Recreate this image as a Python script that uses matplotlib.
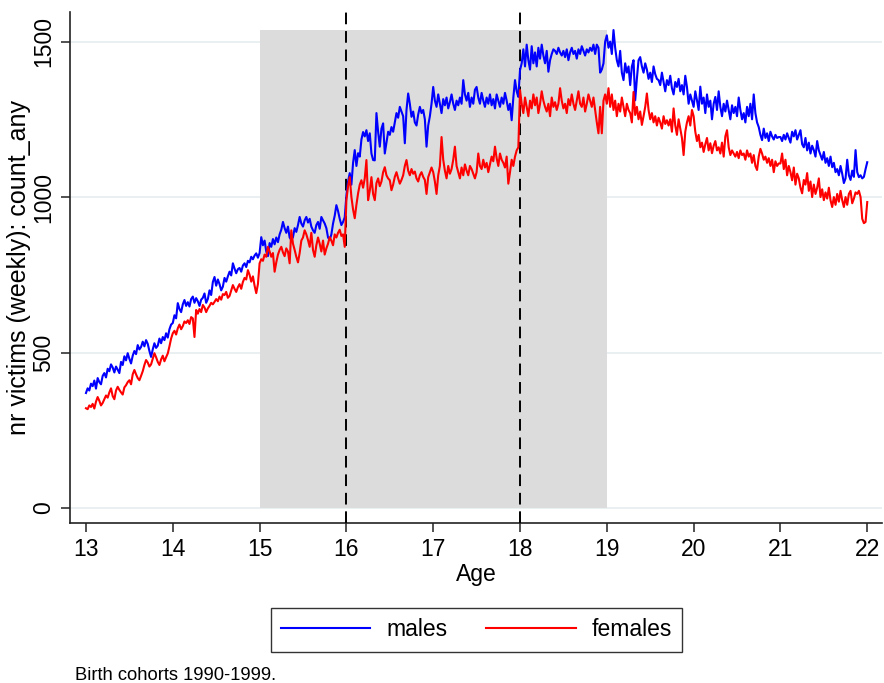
import numpy as np
import matplotlib
matplotlib.use("Agg")
import matplotlib.pyplot as plt
from matplotlib.lines import Line2D

plt.rcParams['font.family'] = ['Liberation Sans', 'DejaVu Sans']

# weekly values, one list per year of age (52 weeks each)
males_13 = [370, 385, 378, 400, 392, 410, 384, 418, 405, 398,
            425, 434, 420, 448, 440, 462, 452, 436, 455, 445,
            434, 470, 460, 488, 475, 498, 480, 465, 490, 505,
            495, 524, 510, 518, 535, 520, 540, 528, 505, 486,
            510, 530, 515, 522, 545, 530, 550, 540, 562, 548,
            575, 590]
males_14 = [595, 620, 610, 659, 640, 630, 655, 669, 650, 662,
            648, 672, 680, 660, 675, 665, 650, 670, 676, 690,
            660, 672, 700, 685, 727, 743, 715, 735, 720, 700,
            712, 740, 728, 745, 760, 748, 787, 770, 755, 768,
            772, 760, 780, 787, 775, 795, 790, 808, 800, 812,
            819, 805]
males_15 = [820, 871, 845, 860, 825, 810, 852, 840, 865, 848,
            870, 855, 880, 895, 920, 900, 885, 905, 870, 862,
            871, 900, 888, 910, 936, 915, 905, 925, 936, 918,
            930, 905, 893, 885, 910, 920, 898, 936, 925, 915,
            900, 870, 862, 880, 915, 940, 974, 955, 930, 910,
            920, 935]
males_16 = [1005, 1050, 1077, 1040, 1110, 1151, 1100, 1141, 1130, 1185,
            1209, 1195, 1215, 1180, 1205, 1140, 1119, 1118, 1270, 1210,
            1162, 1220, 1237, 1140, 1175, 1210, 1200, 1225, 1210, 1240,
            1270, 1255, 1290, 1275, 1260, 1173, 1280, 1333, 1300, 1258,
            1275, 1240, 1230, 1265, 1290, 1270, 1280, 1250, 1162, 1230,
            1260, 1300]
males_17 = [1354, 1310, 1290, 1330, 1300, 1270, 1315, 1295, 1320, 1285,
            1305, 1330, 1300, 1280, 1310, 1295, 1320, 1300, 1376, 1330,
            1310, 1335, 1290, 1320, 1300, 1345, 1354, 1320, 1300, 1335,
            1310, 1290, 1320, 1300, 1330, 1295, 1315, 1285, 1330, 1310,
            1290, 1320, 1300, 1335, 1310, 1280, 1300, 1247, 1320, 1376,
            1340, 1322]
males_18 = [1408, 1430, 1475, 1420, 1490, 1440, 1410, 1485, 1430, 1465,
            1420, 1480, 1445, 1490, 1455, 1430, 1470, 1403, 1440, 1460,
            1475, 1470, 1460, 1480, 1465, 1455, 1470, 1450, 1475, 1440,
            1465, 1480, 1460, 1470, 1445, 1475, 1460, 1485, 1470, 1455,
            1475, 1465, 1480, 1470, 1490, 1460, 1490, 1480, 1400, 1410,
            1430, 1500]
males_19 = [1520, 1480, 1500, 1460, 1537, 1480, 1440, 1420, 1470, 1400,
            1376, 1430, 1400, 1420, 1360, 1420, 1440, 1311, 1380, 1440,
            1450, 1420, 1400, 1430, 1410, 1380, 1400, 1370, 1420, 1395,
            1380, 1376, 1360, 1400, 1370, 1340, 1376, 1360, 1390, 1350,
            1330, 1370, 1354, 1380, 1340, 1360, 1330, 1390, 1354, 1300,
            1330, 1310]
males_20 = [1290, 1340, 1311, 1280, 1355, 1300, 1320, 1270, 1330, 1290,
            1310, 1250, 1300, 1322, 1280, 1340, 1290, 1260, 1300, 1275,
            1310, 1280, 1250, 1295, 1270, 1290, 1260, 1320, 1280, 1250,
            1270, 1240, 1290, 1260, 1300, 1250, 1330, 1270, 1240, 1225,
            1200, 1183, 1220, 1190, 1205, 1180, 1210, 1195, 1185, 1200,
            1190, 1193]
males_21 = [1193, 1180, 1200, 1185, 1205, 1190, 1175, 1210, 1195, 1215,
            1185, 1200, 1215, 1170, 1160, 1190, 1150, 1175, 1140, 1165,
            1151, 1130, 1180, 1150, 1135, 1120, 1145, 1110, 1125, 1100,
            1130, 1096, 1110, 1080, 1090, 1070, 1100, 1075, 1045, 1060,
            1120, 1070, 1055, 1085, 1065, 1151, 1080, 1064, 1070, 1060,
            1065, 1090]
males_22 = [1112]

females_13 = [321, 318, 330, 325, 335, 320, 342, 357, 345, 330,
              338, 350, 362, 355, 372, 385, 360, 350, 378, 390,
              380, 372, 365, 388, 395, 405, 411, 398, 430, 444,
              430, 418, 411, 425, 440, 460, 476, 468, 455, 462,
              480, 498, 485, 470, 460, 478, 490, 472, 485, 497,
              520, 545]
females_14 = [562, 570, 558, 578, 590, 575, 585, 600, 595, 604,
              592, 614, 610, 550, 637, 625, 640, 630, 653, 645,
              630, 642, 650, 660, 655, 663, 672, 665, 680, 670,
              688, 685, 695, 676, 682, 700, 717, 705, 695, 710,
              720, 705, 727, 740, 735, 765, 750, 728, 745, 715,
              691, 720]
females_15 = [787, 800, 795, 815, 808, 840, 825, 808, 820, 760,
              790, 815, 830, 840, 822, 810, 835, 825, 787, 893,
              850, 830, 808, 790, 820, 860, 870, 893, 880, 862,
              840, 885, 830, 808, 845, 870, 850, 825, 860, 815,
              835, 850, 871, 860, 845, 880, 870, 885, 895, 875,
              880, 840]
females_16 = [990, 1035, 1064, 1000, 960, 932, 975, 1012, 1040, 1054,
              1030, 1060, 1119, 990, 1020, 1064, 1010, 990, 1045, 1060,
              1035, 1050, 1080, 1096, 1070, 1060, 1054, 1022, 1040, 1065,
              1080, 1060, 1043, 1055, 1070, 1100, 1119, 1085, 1070, 1090,
              1075, 1082, 1060, 1050, 1070, 1080, 1065, 1055, 1010, 1064,
              1080, 1095]
females_17 = [1080, 1050, 1010, 1070, 1100, 1193, 1120, 1085, 1060, 1100,
              1075, 1090, 1120, 1162, 1100, 1080, 1060, 1095, 1070, 1105,
              1085, 1070, 1100, 1090, 1075, 1060, 1080, 1140, 1100, 1090,
              1120, 1095, 1110, 1080, 1105, 1130, 1115, 1162, 1125, 1100,
              1140, 1120, 1110, 1095, 1130, 1043, 1080, 1120, 1100, 1130,
              1150, 1160]
females_18 = [1344, 1300, 1270, 1320, 1290, 1260, 1310, 1285, 1330, 1295,
              1320, 1270, 1300, 1340, 1310, 1290, 1275, 1300, 1260, 1320,
              1290, 1305, 1280, 1300, 1350, 1310, 1285, 1300, 1270, 1315,
              1295, 1330, 1300, 1280, 1310, 1340, 1300, 1290, 1320, 1275,
              1300, 1330, 1310, 1290, 1320, 1280, 1240, 1205, 1290, 1205,
              1310, 1330]
females_19 = [1300, 1350, 1290, 1330, 1280, 1310, 1260, 1300, 1275, 1320,
              1290, 1260, 1300, 1280, 1270, 1240, 1338, 1264, 1290, 1250,
              1275, 1232, 1260, 1290, 1333, 1280, 1250, 1270, 1240, 1260,
              1230, 1255, 1240, 1220, 1260, 1235, 1247, 1230, 1250, 1210,
              1285, 1230, 1200, 1250, 1220, 1190, 1135, 1210, 1240, 1260,
              1230, 1280]
females_20 = [1260, 1210, 1180, 1200, 1160, 1175, 1145, 1170, 1190, 1150,
              1173, 1141, 1165, 1180, 1150, 1160, 1140, 1175, 1130, 1195,
              1215, 1160, 1135, 1150, 1140, 1130, 1145, 1125, 1150, 1135,
              1140, 1120, 1150, 1130, 1140, 1110, 1135, 1100, 1087, 1130,
              1155, 1140, 1120, 1130, 1110, 1125, 1100, 1120, 1080, 1115,
              1100, 1108]
females_21 = [1108, 1140, 1090, 1120, 1070, 1100, 1080, 1054, 1095, 1040,
              1075, 1060, 1030, 1012, 1055, 1040, 1077, 1020, 1050, 1000,
              1040, 1010, 1030, 1060, 1000, 1025, 990, 1015, 995, 1030,
              990, 968, 1000, 975, 1010, 985, 1020, 990, 968, 1000,
              975, 1010, 1020, 980, 995, 1015, 1010, 1020, 1000, 930,
              916, 920]
females_22 = [984]

males = np.array(males_13 + males_14 + males_15 + males_16 + males_17 +
                 males_18 + males_19 + males_20 + males_21 + males_22)
females = np.array(females_13 + females_14 + females_15 + females_16 + females_17 +
                   females_18 + females_19 + females_20 + females_21 + females_22)

start_age = 13
weeks_per_year = 52
age = start_age + np.arange(len(males)) / weeks_per_year

shade_span = [15, 19]
shade_top = 1537
cutoffs = [16, 18]
x_ticks = list(range(13, 23))
y_ticks = [0, 500, 1000, 1500]

FS = 16.5

fig = plt.figure(figsize=(8.84, 6.83), dpi=100)
ax = fig.add_axes([70 / 884, 1 - 523 / 683, 812 / 884, 511 / 683])

for yt in y_ticks:
    ax.axhline(yt, color='#e6eef0', lw=1.2, zorder=0)
ax.fill_between(shade_span, 0, shade_top, color='#dcdcdc', lw=0, zorder=1)
for c in cutoffs:
    ax.axvline(c, color='black', lw=1.4, ls=(0, (6, 3.5)), zorder=3)

ax.plot(age, males, color='#0000ff', lw=1.5, zorder=4, label='males')
ax.plot(age, females, color='#ff0000', lw=1.5, zorder=4, label='females')

ax.set_xlim(12.816, 22.17)
ax.set_ylim(-48, 1595)
ax.set_xticks(x_ticks)
ax.set_xticklabels([str(t) for t in x_ticks], fontsize=FS)
ax.set_yticks(y_ticks)
ax.set_yticklabels([str(t) for t in y_ticks], fontsize=FS, rotation=90, va='center')
ax.tick_params(axis='both', direction='out', length=6.5, width=1.1, color='#222222', pad=4)
for s in ['top', 'right']:
    ax.spines[s].set_visible(False)
for s in ['left', 'bottom']:
    ax.spines[s].set_linewidth(1.2)
    ax.spines[s].set_color('#222222')

ax.set_xlabel('Age', fontsize=FS, labelpad=2)
ax.set_ylabel('nr victims (weekly): count_any', fontsize=18, labelpad=1)

handles = [Line2D([], [], color='#0000ff', lw=1.5), Line2D([], [], color='#ff0000', lw=1.5)]
leg = fig.legend(handles, ['males', 'females'], loc='center',
                 bbox_to_anchor=(476.5 / 884, 1 - 630 / 683), ncol=2,
                 fontsize=FS, frameon=True, fancybox=False, edgecolor='black',
                 handlelength=3.9, handletextpad=0.7, columnspacing=1.7,
                 borderpad=0.45)
leg.get_frame().set_linewidth(1.0)

fig.text(75 / 884, 1 - 675 / 683, 'Birth cohorts 1990-1999.', fontsize=13.2, va='center', ha='left')

fig.savefig('out.png', dpi=100, facecolor='white')
